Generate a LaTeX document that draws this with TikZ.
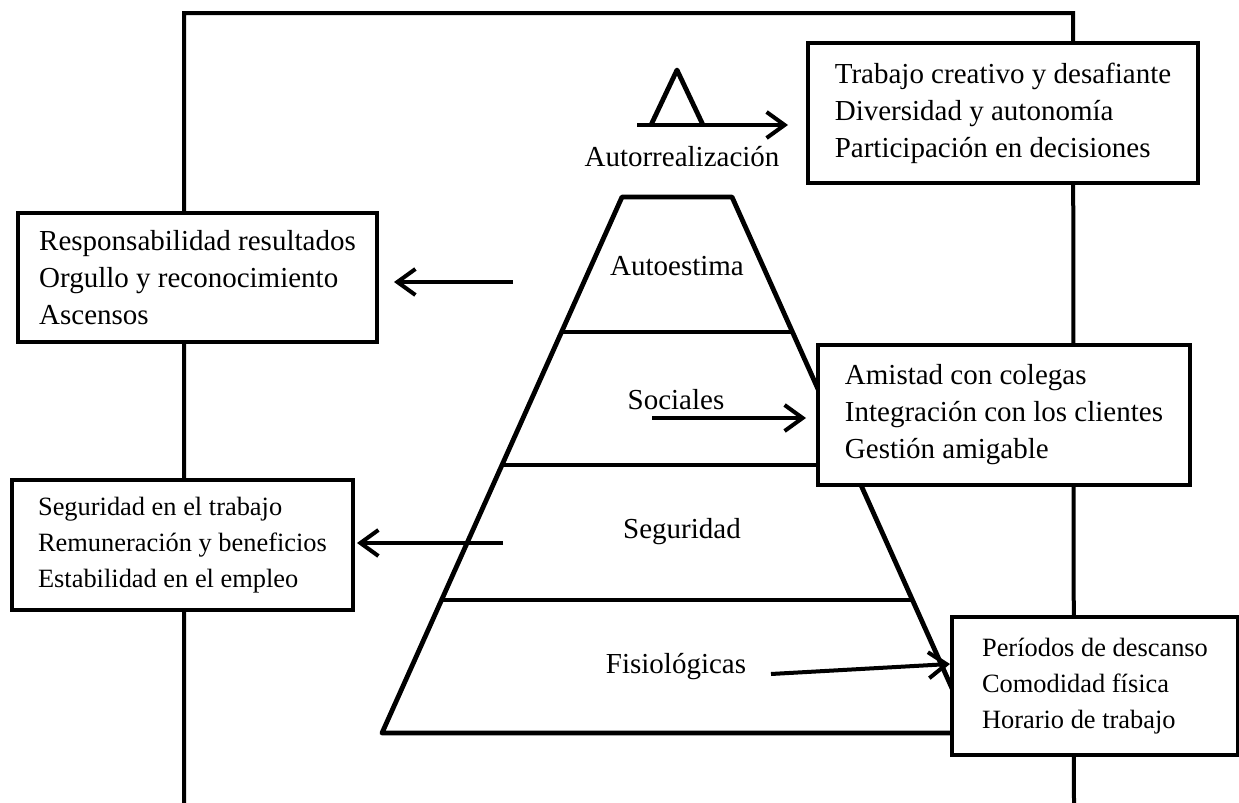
\documentclass[tikz,border=0pt]{standalone}
\usepackage{fontspec}
\setmainfont{Liberation Serif}
\usetikzlibrary{calc,arrows.meta,positioning}

\begin{document}
\begin{tikzpicture}[
        x=0.5pt,
        y=-0.5pt,
        frame line/.style={line width=2pt},
        level line/.style={line width=2.4pt,line join=round},
        need box/.style={draw,line width=2pt,fill=white,align=left,inner sep=0pt,
            font=\fontsize{14.5pt}{18.5pt}\selectfont},
        small box/.style={need box,font=\fontsize{13.2pt}{18pt}\selectfont},
        level label/.style={font=\fontsize{14.5pt}{18pt}\selectfont},
        link arrow/.style={line width=2pt,-{Straight Barb[length=9pt,width=13pt]}}
    ]
        \useasboundingbox (0,0) rectangle (1239,803);

        % The frame that runs behind the boxes.
        \draw[frame line] (184,803) -- (184,13) -- (1073,13) -- (1074,803);

        % The pyramid with its levels.
        \coordinate (apex left) at (622,197);
        \coordinate (apex right) at (732,197);
        \coordinate (base left) at (382,733);
        \coordinate (base right) at (972,733);
        \draw[level line] (apex left) -- (base left) -- (base right)
            -- (apex right) -- cycle;
        \draw[level line]
            ($(apex left)!0.252!(base left)$) -- ($(apex right)!0.252!(base right)$);
        \draw[level line]
            ($(apex left)!0.5!(base left)$) -- ($(apex right)!0.5!(base right)$);
        \draw[level line]
            ($(apex left)!0.752!(base left)$) -- ($(apex right)!0.752!(base right)$);

        % The small tip on top.
        \draw[level line] (651,125) -- (677,70) -- (703,125);

        \node[level label] (autorrealizacion) at (682,157) {Autorrealización};
        \node[level label] (autoestima) at (677,266) {Autoestima};
        \node[level label] (sociales) at (676,400) {Sociales};
        \node[level label] (seguridad) at (682,532) {Seguridad};
        \node[level label] (fisiologicas) at (676,667) {Fisiológicas};

        % The boxes with what each level asks for.
        \node[need box,minimum width=195pt,minimum height=70pt] (self box)
            at (1003,113)
            {Trabajo creativo y desafiante\\Diversidad y autonomía\\Participación en decisiones};
        \node[need box,minimum width=179.5pt,minimum height=64.5pt] (esteem box)
            at (197.5,277.5)
            {Responsabilidad resultados\\Orgullo y reconocimiento\\Ascensos};
        \node[need box,minimum width=186pt,minimum height=70pt] (social box)
            at (1004,415)
            {Amistad con colegas\\Integración con los clientes\\Gestión amigable};
        \node[small box,minimum width=170.5pt,minimum height=65pt] (safety box)
            at (182.5,545)
            {Seguridad en el trabajo\\Remuneración y beneficios\\Estabilidad en el empleo};
        \node[small box,minimum width=143pt,minimum height=69pt] (body box)
            at (1095,686)
            {Períodos de descanso\\Comodidad física\\Horario de trabajo};

        % Arrows from the levels to their boxes.
        \coordinate (self start) at (637,125);
        \draw[link arrow,shorten >=9pt] (self start) -- (self start -| self box.west);
        \coordinate (esteem start) at (513,282);
        \draw[link arrow,shorten >=7.5pt] (esteem start) -- (esteem start -| esteem box.east);
        \coordinate (social start) at (652,418);
        \draw[link arrow,shorten >=5pt] (social start) -- (social start -| social box.west);
        \coordinate (safety start) at (503,543);
        \draw[link arrow,shorten >=1pt] (safety start) -- (safety start -| safety box.east);
        \coordinate (body start) at (771,674);
        \draw[link arrow] (body start) -- ([yshift=11pt]body box.west);
    \end{tikzpicture}
\end{document}
